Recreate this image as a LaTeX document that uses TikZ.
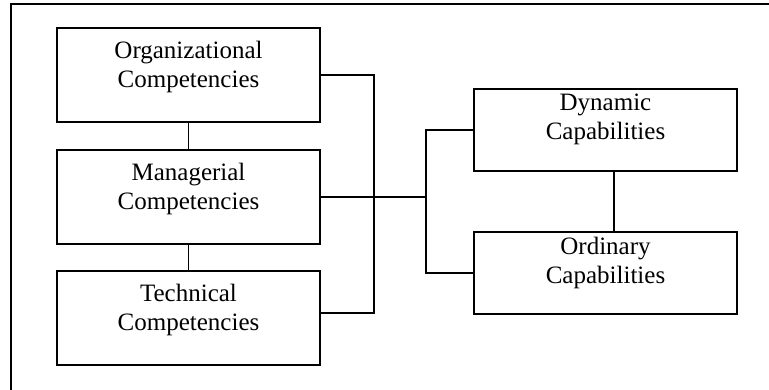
\documentclass[tikz,border=0pt]{standalone}
\usepackage{fontspec}
\setmainfont{Liberation Serif}
\usetikzlibrary{positioning}
\tikzset{
    BX1/.style ={rectangle,minimum width = 263pt, minimum height = 94pt, draw, line width=1.2pt, inner sep=0pt},
    BX2/.style ={rectangle,minimum width = 263pt, minimum height = 82pt, draw, line width=1.2pt, inner sep=0pt},
    TX/.style ={align=center, inner sep=0pt, font=\fontsize{25}{29}\selectfont},
    LN/.style ={line width=1.2pt}}
\begin{document}
\begin{tikzpicture}[x=1pt,y=-1pt]
        \useasboundingbox (0,0) rectangle (769,390);
        \draw[LN] (11,390) -- (11,4) -- (769,4);
        % competencies
        \node[BX1] (org) at (188.5,75){};
        \node[BX1] (mgr) at (188.5,197){};
        \node[BX1] (tech) at (188.5,318){};
        \node[TX,below=14pt of org.north] (orgtx){Organizational\\Competencies};
        \node[TX,below=14pt of mgr.north] (mgrtx){Managerial\\Competencies};
        \node[TX,below=14pt of tech.north] (techtx){Technical\\Competencies};
        % capabilities
        \node[BX2] (dyn) at (605.5,130){};
        \node[BX2] (ord) at (605.5,273){};
        \node[TX,below=5pt of dyn.north] (dyntx){Dynamic\\Capabilities};
        \node[TX,below=6pt of ord.north] (ordtx){Ordinary\\Capabilities};
        \coordinate (busA) at (374,197);
        \coordinate (busB) at (426,197);
        \draw[LN] (org) -- (mgr);
        \draw[LN] (mgr) -- (tech);
        \draw[LN] ([xshift=8.5pt]dyn.south) -- ([xshift=8.5pt]ord.north);
        \draw[LN] (org.east) -| (busA) |- ([yshift=5pt]tech.east);
        \draw[LN] (mgr.east) -- (mgr.east -| busB);
        \draw[LN] (dyn.west) -| (busB) |- (ord.west);
    \end{tikzpicture}
\end{document}
